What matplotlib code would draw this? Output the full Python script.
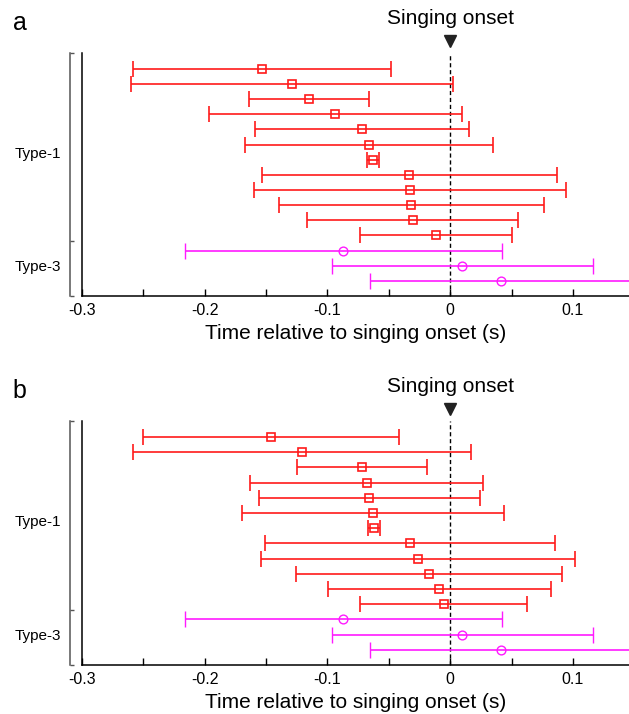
import matplotlib
matplotlib.use("Agg")
import matplotlib.pyplot as plt
import numpy as np
from matplotlib.transforms import blended_transform_factory

plt.rcParams["font.family"] = ["Liberation Sans", "DejaVu Sans"]
plt.rcParams["axes.unicode_minus"] = False

# interval centre and half-width per row, top row first
a_type1_mean = [-0.153, -0.129, -0.115, -0.0937, -0.072, -0.0663, -0.0628,
                -0.0332, -0.0326, -0.0316, -0.0306, -0.0118]
a_type1_err = [0.105, 0.131, 0.049, 0.103, 0.087, 0.101, 0.0047,
               0.120, 0.127, 0.108, 0.086, 0.062]
a_type3_mean = [-0.0872, 0.0099, 0.0414]
a_type3_err = [0.129, 0.106, 0.107]

b_type1_mean = [-0.146, -0.1206, -0.072, -0.068, -0.066, -0.063, -0.0617,
                -0.0330, -0.0263, -0.0173, -0.0088, -0.0053]
b_type1_err = [0.104, 0.1375, 0.053, 0.095, 0.090, 0.1067, 0.0048,
               0.118, 0.1276, 0.108, 0.091, 0.0678]
b_type3_mean = [-0.0872, 0.0099, 0.0414]
b_type3_err = [0.129, 0.106, 0.107]

group_labels = ["Type-1", "Type-3"]
x_major = [-0.3, -0.2, -0.1, 0.0, 0.1]
x_major_labels = ["-0.3", "-0.2", "-0.1", "0", "0.1"]
x_minor = [-0.25, -0.15, -0.05, 0.05]

W, H = 629, 714
fig = plt.figure(figsize=(W / 100, H / 100), dpi=100)


def draw_panel(top_px, bottom_px, letter, t1_mean, t1_err, t3_mean, t3_err):
    left_px = 81.7
    ax = fig.add_axes([left_px / W, 1 - bottom_px / H,
                       (W - left_px) / W, (bottom_px - top_px) / H])
    n1, n3 = len(t1_mean), len(t3_mean)
    y1 = np.arange(1, n1 + 1)
    y3 = np.arange(n1 + 1, n1 + n3 + 1)

    ax.axvline(0, color="black", lw=1.0, ls=(0, (3, 2)), zorder=1)
    ax.errorbar(t1_mean, y1, xerr=t1_err, fmt="s", color="#ff1a1a",
                mfc="none", mec="#ff1a1a", ms=5.5, mew=1.2, lw=1.2,
                capsize=5.5, capthick=1.2, zorder=3)
    ax.errorbar(t3_mean, y3, xerr=t3_err, fmt="o", color="#ff1aff",
                mfc="none", mec="#ff1aff", ms=6.3, mew=1.0, lw=1.2,
                capsize=5.5, capthick=1.2, zorder=3)

    ytop = -0.05
    ybot = n1 + n3 + 1
    ax.set_ylim(ybot, ytop)
    ax.set_xlim(-0.3, 0.1456)

    for side in ("top", "right"):
        ax.spines[side].set_visible(False)
    ax.spines["left"].set_linewidth(1.1)
    ax.spines["bottom"].set_linewidth(1.1)
    ax.tick_params(axis="y", left=False, labelleft=False)
    ax.set_xticks(x_major, labels=x_major_labels)
    ax.set_xticks(x_minor, minor=True)
    ax.tick_params(axis="x", which="both", direction="in", length=5,
                   width=1.0, labelsize=11.5, pad=5)
    ax.set_xlabel("Time relative to singing onset (s)", fontsize=15,
                  labelpad=4)

    # group bracket
    width_px = W - left_px
    sec = ax.secondary_yaxis(-12 / width_px)
    sec.spines["left"].set_color("#555555")
    sec.spines["left"].set_linewidth(1.1)
    split = n1 + 0.35
    sec.set_yticks([ytop, split, ybot], labels=["", "", ""])
    sec.set_yticks([(1 + n1) / 2, (n1 + 1 + n1 + n3) / 2],
                   labels=group_labels, minor=True)
    sec.tick_params(which="major", direction="in", length=3, width=1.0,
                    color="#555555")
    sec.tick_params(which="minor", length=0, pad=6.5, labelsize=11)

    trans = blended_transform_factory(ax.transData, ax.transAxes)
    ax.annotate("Singing onset", xy=(0, 1), xycoords=trans,
                xytext=(0, 24.5), textcoords="offset points",
                ha="center", va="center", fontsize=15)
    ax.plot([0], [1.0 + 12 / (bottom_px - top_px)], marker="v",
            color="#222222", ms=9, transform=trans, clip_on=False)

    fig.text(19.5 / W, 1 - (top_px - 30) / H, letter, fontsize=18,
             ha="center", va="center")


draw_panel(53, 296, "a", a_type1_mean, a_type1_err, a_type3_mean, a_type3_err)
draw_panel(421, 665, "b", b_type1_mean, b_type1_err, b_type3_mean, b_type3_err)

fig.savefig("out.png", dpi=100)
